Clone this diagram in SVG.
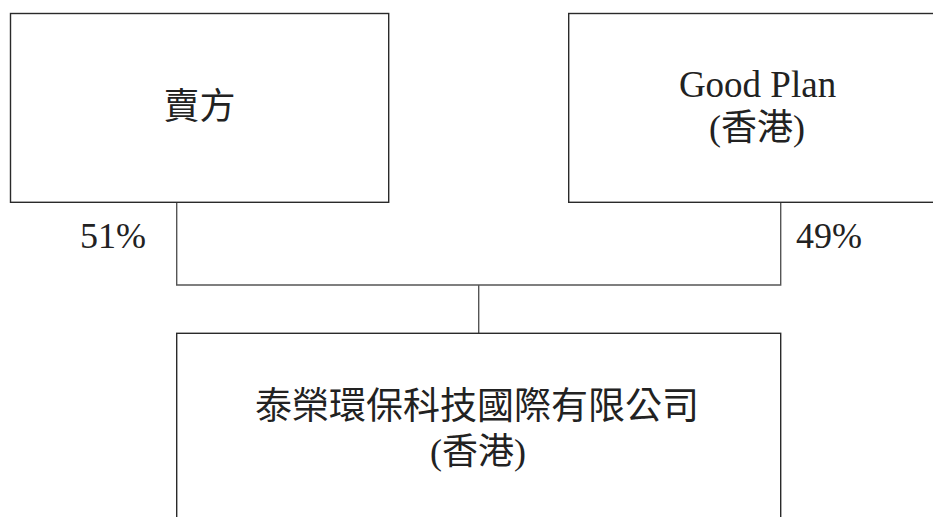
<svg xmlns="http://www.w3.org/2000/svg" width="933" height="517" viewBox="0 0 933 517">
<style>
.box{fill:#fff;stroke:#2a2a2a;stroke-width:1.4}
.conn{fill:none;stroke:#555;stroke-width:1.4}
.t{font-family:"Liberation Serif","Noto Sans CJK TC",serif;font-size:36px;fill:#222}
.l{font-size:37px}
.c{text-anchor:middle}
</style>
<rect width="933" height="517" fill="#fff"/>
<g id="connectors">
<path class="conn" d="M176.7 202.3V285H780.7V202.3"/>
<path class="conn" d="M478.7 285V333.3"/>
</g>
<g id="seller">
<rect class="box" x="10.5" y="13.5" width="378.2" height="188.8"/>
<text class="t c" x="199.6" y="119">賣方</text>
</g>
<g id="goodplan">
<rect class="box" x="568.7" y="13.5" width="378" height="188.8"/>
<text class="t c l" x="757.5" y="97">Good Plan</text>
<text class="t c" x="757" y="140">(香港)</text>
</g>
<g id="company">
<rect class="box" x="176.7" y="333.3" width="604" height="200"/>
<text class="t c l" x="477" y="418.5">泰榮環保科技國際有限公司</text>
<text class="t c" x="478" y="463.5">(香港)</text>
</g>
<g id="labels">
<text class="t" x="80" y="248.3">51%</text>
<text class="t" x="796" y="248.3">49%</text>
</g>
</svg>
